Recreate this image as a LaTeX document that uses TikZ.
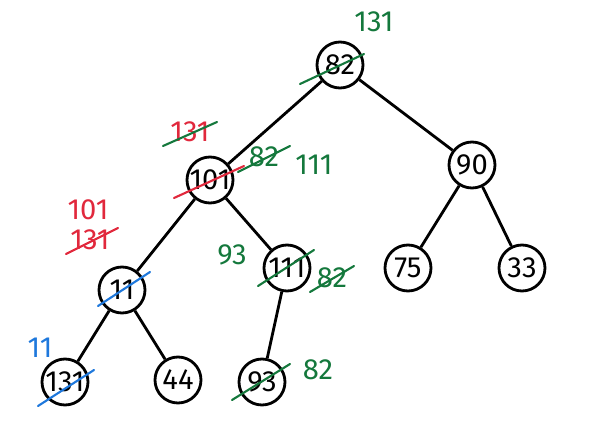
\documentclass[tikz,border=0pt]{standalone}
\usepackage{fontspec}
\setmainfont{Fira Sans}
\definecolor{penred}{RGB}{225,40,60}
\definecolor{pengreen}{RGB}{20,120,60}
\definecolor{penblue}{RGB}{30,120,220}
\tikzset{
  key/.style={circle, draw, line width=2pt, minimum size=1.15cm, inner sep=0pt, font=\huge},
  link/.style={line width=2pt},
  note/.style={font=\huge},
  strike/.style={line width=1.5pt, line cap=round}
}
\begin{document}
\begin{tikzpicture}[x=0.025cm, y=-0.025cm]
    \useasboundingbox (0,0) rectangle (600,429);

    % the heap
    \node[key] (n82) at (340,65) {82};
    \node[key] (n101) at (210,180) {101};
    \node[key] (n90) at (472,165) {90};
    \node[key] (n11) at (122,290) {11};
    \node[key] (n111) at (287,268) {111};
    \node[key] (n75) at (408,268) {75};
    \node[key] (n33) at (522,268) {33};
    \node[key] (n131) at (65,382) {131};
    \node[key] (n44) at (178,380) {44};
    \node[key] (n93) at (262,382) {93};

    \draw[link] (n82) -- (n101);
    \draw[link] (n82) -- (n90);
    \draw[link] (n101) -- (n11);
    \draw[link] (n101) -- (n111);
    \draw[link] (n90) -- (n75);
    \draw[link] (n90) -- (n33);
    \draw[link] (n11) -- (n131);
    \draw[link] (n11) -- (n44);
    \draw[link] (n111) -- (n93);

    % swaps written beside the keys
    \node[note, text=pengreen] (t131) at (374,22) {131};
    \draw[strike, pengreen] (300,84) -- (364,54);

    \node[note, text=penred] (r131) at (190,132) {131};
    \draw[strike, pengreen] (163,146) -- (217,122);
    \draw[strike, penred] (174,198) -- (244,166);
    \node[note, text=pengreen] (g82) at (264,157) {82};
    \draw[strike, pengreen] (238,172) -- (290,146);
    \node[note, text=pengreen] (g111) at (314,165) {111};

    \node[note, text=penred] (r101) at (88,210) {101};
    \node[note, text=penred] (r131b) at (90,240) {131};
    \draw[strike, penred] (66,254) -- (118,228);
    \draw[strike, penblue] (98,306) -- (150,272);

    \node[note, text=pengreen] (g93) at (232,255) {93};
    \draw[strike, pengreen] (258,286) -- (314,250);
    \node[note, text=pengreen] (g82b) at (332,278) {82};
    \draw[strike, pengreen] (310,292) -- (354,266);

    \node[note, text=penblue] (b11) at (40,348) {11};
    \draw[strike, penblue] (38,406) -- (94,370);
    \draw[strike, pengreen] (232,400) -- (290,364);
    \node[note, text=pengreen] (g82c) at (318,370) {82};
\end{tikzpicture}
\end{document}
